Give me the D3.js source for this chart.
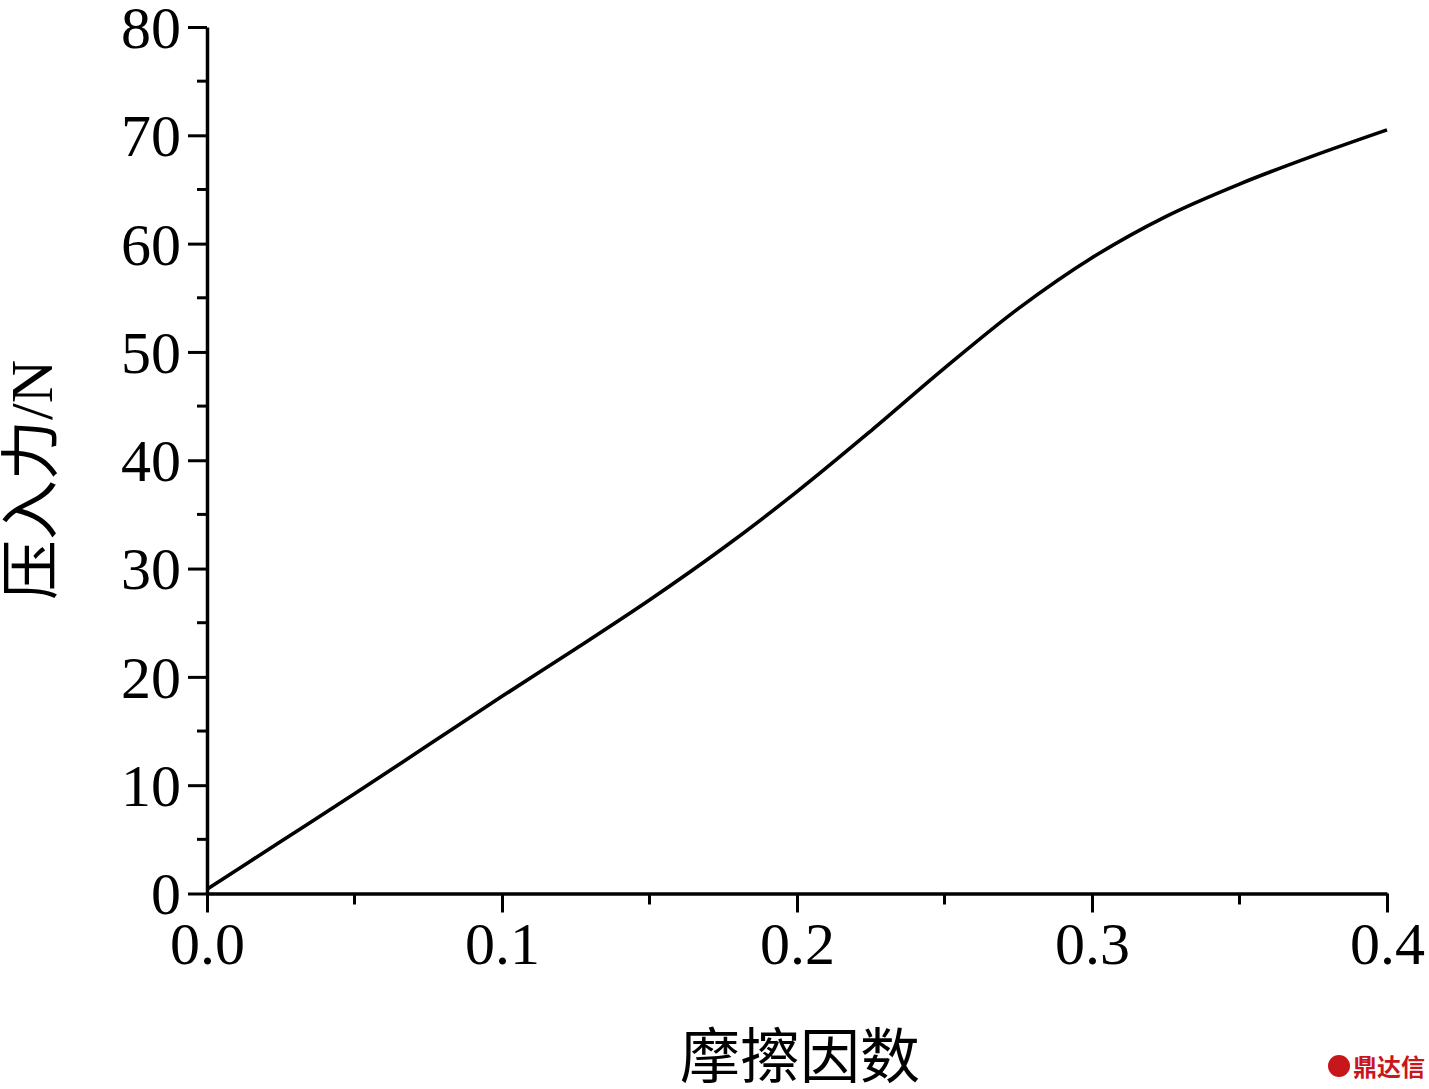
<!DOCTYPE html>
<html><head><meta charset="utf-8">
<script src="https://cdn.jsdelivr.net/npm/d3@7"></script>
<style>body{margin:0;background:#fff}</style>
</head><body>
<svg id="c" width="1429" height="1089"></svg>
<script>
const frictionCoef = [0, 0.025, 0.05, 0.075, 0.1, 0.125, 0.15, 0.175, 0.2, 0.225, 0.25, 0.275, 0.3, 0.325, 0.35, 0.375, 0.4];
const pressForce   = [0.4, 4.8, 9.2, 13.7, 18.2, 22.6, 27.1, 31.9, 37.1, 42.7, 48.5, 54.0, 58.7, 62.5, 65.5, 68.1, 70.5];
const xTicks = [0, 0.1, 0.2, 0.3, 0.4];
const yTicks = [0, 10, 20, 30, 40, 50, 60, 70, 80];
const xLabel = "摩擦因数";
const yLabel = "压入力/N";
const watermark = "鼎达信";

const svg = d3.select("#c");
const serif = "'Liberation Serif','Times New Roman','Noto Sans CJK SC',serif";
const x = d3.scaleLinear().domain([0, 0.4]).range([207, 1387]);
const y = d3.scaleLinear().domain([0, 80]).range([893.5, 27]);

const xMinor = d3.range(0, 8).map(i => 0.05 + i * 0.1).filter(v => v < 0.4);
const yMinor = d3.range(0, 8).map(i => 5 + i * 10);

const gx = svg.append("g").attr("transform", "translate(0,893.5)");
gx.call(d3.axisBottom(x).tickValues(xTicks).tickFormat(d3.format(".1f")).tickSize(19).tickSizeOuter(0).tickPadding(8));
gx.selectAll(".minor").data(xMinor).enter().append("line").attr("class","minor")
  .attr("x1", d => x(d)).attr("x2", d => x(d)).attr("y1", 0).attr("y2", 11)
  .attr("stroke", "#000").attr("stroke-width", 3);

const gy = svg.append("g").attr("transform", "translate(207,0)");
gy.call(d3.axisLeft(y).tickValues(yTicks).tickSize(19).tickSizeOuter(0).tickPadding(7));
gy.selectAll(".minor").data(yMinor).enter().append("line").attr("class","minor")
  .attr("y1", d => y(d)).attr("y2", d => y(d)).attr("x1", 0).attr("x2", -10)
  .attr("stroke", "#000").attr("stroke-width", 3);

svg.selectAll(".domain, .tick line").attr("stroke", "#000").attr("stroke-width", 3);
svg.selectAll(".domain").attr("stroke-width", 3.5);
gx.selectAll(".tick text").attr("font-family", serif).attr("font-size", 60).attr("fill", "#000").attr("dy", "0.72em");
gy.selectAll(".tick text").attr("font-family", serif).attr("font-size", 60).attr("fill", "#000").attr("dy", "0.34em");

const line = d3.line().x((d, i) => x(frictionCoef[i])).y(d => y(d)).curve(d3.curveCatmullRom.alpha(0.5));
svg.append("path").datum(pressForce).attr("d", line)
  .attr("fill", "none").attr("stroke", "#000").attr("stroke-width", 3.6).attr("stroke-linejoin", "round");

svg.append("text").attr("x", 800).attr("y", 1078).attr("text-anchor", "middle")
  .attr("font-family", serif).attr("font-size", 60).attr("fill", "#000").text(xLabel);
svg.append("text").attr("transform", "translate(52,480) rotate(-90)").attr("text-anchor", "middle")
  .attr("font-family", serif).attr("font-size", 60).attr("fill", "#000").text(yLabel);

svg.append("circle").attr("cx", 1339).attr("cy", 1066).attr("r", 11).attr("fill", "#c8161d");
svg.append("text").attr("x", 1353).attr("y", 1076).attr("font-family", "'Noto Sans CJK SC',sans-serif")
  .attr("font-weight", 700).attr("font-size", 24).attr("fill", "#c8161d").text(watermark);
</script>
</body></html>
